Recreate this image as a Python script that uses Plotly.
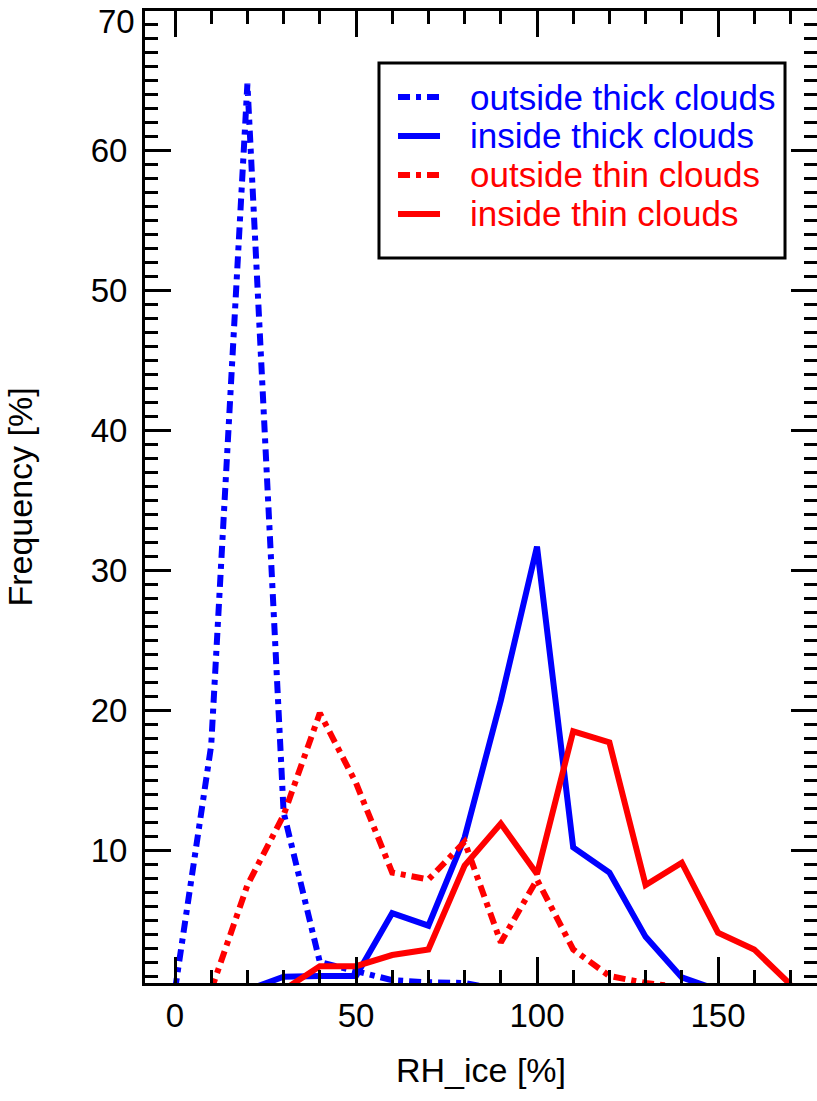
import plotly.graph_objects as go

# ---- data ----
outside_thick_x = [0, 10, 20, 30, 40, 50, 60, 70, 80, 90]
outside_thick_y = [0, 17.5, 64.8, 12.7, 2.0, 1.3, 0.7, 0.55, 0.5, 0]

inside_thick_x = [20, 30, 40, 50, 60, 70, 80, 90, 100, 110, 120, 130, 140, 150]
inside_thick_y = [0, 0.95, 1.0, 1.0, 5.5, 4.6, 10.9, 20.7, 31.7, 10.2, 8.4, 3.8, 0.9, 0]

outside_thin_x = [10, 20, 30, 40, 50, 60, 70, 80, 90, 100, 110, 120, 130, 140]
outside_thin_y = [0, 7.5, 12.5, 19.8, 14.8, 8.4, 7.9, 10.6, 3.4, 7.9, 2.9, 1.0, 0.5, 0.2]

inside_thin_x = [30, 40, 50, 60, 70, 80, 90, 100, 110, 120, 130, 140, 150, 160, 170]
inside_thin_y = [0, 1.7, 1.7, 2.5, 2.9, 8.9, 11.9, 8.3, 18.5, 17.7, 7.5, 9.1, 4.1, 2.9, 0.4]

legend_labels = ["outside thick clouds", "inside thick clouds",
                 "outside thin clouds", "inside thin clouds"]
x_ticks = [0, 50, 100, 150]
y_ticks = [10, 20, 30, 40, 50, 60, 70]
y_top_label = "70"   # drawn just below the top edge, as in the reference

BLUE = "#0000FF"
RED = "#FF0000"
DASHDOT = "12px,6px,5px,6px"
FONT = "Liberation Sans, Arial, Helvetica, sans-serif"

series = [
    (outside_thick_x, outside_thick_y, BLUE, DASHDOT, legend_labels[0]),
    (inside_thick_x, inside_thick_y, BLUE, "solid", legend_labels[1]),
    (outside_thin_x, outside_thin_y, RED, DASHDOT, legend_labels[2]),
    (inside_thin_x, inside_thin_y, RED, "solid", legend_labels[3]),
]

fig = go.Figure()
for xs, ys, col, dash, name in series:
    fig.add_trace(go.Scatter(x=xs, y=ys, mode="lines", name=name,
                             line=dict(color=col, width=6, dash=dash),
                             showlegend=False))

# ---- manual legend (box, swatches, labels) ----
box_x0, box_x1 = 0.3482, 0.9524
box_y0, box_y1 = 0.7459, 0.9465
sw_x0, sw_x1 = 0.3765, 0.4390
txt_x = 0.4807
rows = [0.9115, 0.8714, 0.8313, 0.7912]

shapes = [dict(type="rect", xref="paper", yref="paper", x0=box_x0, x1=box_x1,
               y0=box_y0, y1=box_y1, line=dict(color="black", width=3),
               fillcolor="white", layer="above")]
annotations = []
for (xs, ys, col, dash, name), ry in zip(series, rows):
    shapes.append(dict(type="line", xref="paper", yref="paper", x0=sw_x0, x1=sw_x1,
                       y0=ry, y1=ry, line=dict(color=col, width=6, dash=dash),
                       layer="above"))
    annotations.append(dict(xref="paper", yref="paper", x=txt_x, y=ry, text=name,
                            showarrow=False, xanchor="left", yanchor="middle",
                            font=dict(family=FONT, size=35, color=col)))

# top y tick label, nudged down so it stays inside the page (like the reference)
annotations.append(dict(xref="paper", yref="y", x=0, y=y_ticks[-1], text=y_top_label,
                        showarrow=False, xanchor="right", yanchor="middle",
                        xshift=-8, yshift=-10,
                        font=dict(family=FONT, size=33, color="black")))
y_ticktext = [str(v) for v in y_ticks[:-1]] + [""]

axis_common = dict(showline=True, linewidth=3, linecolor="black", mirror="ticks",
                   ticks="inside", tickwidth=3, tickcolor="black", ticklen=26,
                   showgrid=False, zeroline=False,
                   tickfont=dict(family=FONT, size=33, color="black"))

fig.update_layout(
    width=817, height=1101,
    margin=dict(l=145, r=0, t=11, b=118, autoexpand=False),
    paper_bgcolor="white", plot_bgcolor="white",
    font=dict(family=FONT, color="black"),
    xaxis=dict(range=[-8.29, 177.35], tickvals=x_ticks,
               minor=dict(dtick=10, tick0=0, ticks="inside", ticklen=13,
                          tickwidth=3, tickcolor="black"),
               title=dict(text="RH_ice [%]", font=dict(family=FONT, size=34, color="black"),
                          standoff=26),
               ticklabelstandoff=1,
               **axis_common),
    yaxis=dict(range=[0.5, 70.0], tickvals=y_ticks, ticktext=y_ticktext,
               minor=dict(dtick=1, tick0=0, ticks="inside", ticklen=13,
                          tickwidth=3, tickcolor="black"),
               title=dict(text="Frequency [%]", font=dict(family=FONT, size=34, color="black"),
                          standoff=48),
               ticklabelstandoff=8,
               **axis_common),
    shapes=shapes,
    annotations=annotations,
)

# remove the page's default 8px body margin so the figure fills the window exactly
fig.write_html("out.html",
               config={"displayModeBar": False},
               post_script="document.body.style.margin='0px';"
                           "document.body.style.overflow='hidden';")
